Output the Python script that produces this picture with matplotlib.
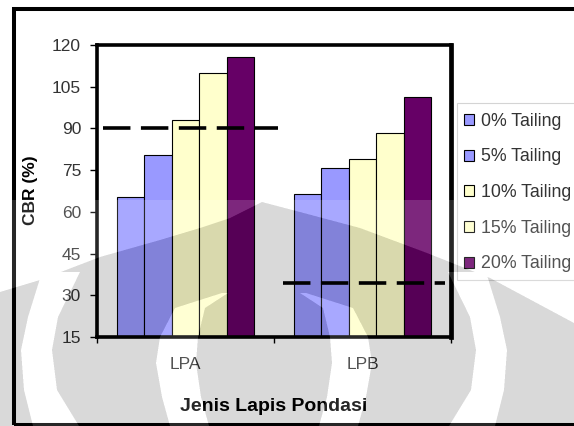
import numpy as np
import matplotlib
matplotlib.use("Agg")
import matplotlib.pyplot as plt
from matplotlib.patches import Rectangle

plt.rcParams["font.family"] = ["Liberation Sans", "DejaVu Sans"]

# CBR values per foundation layer type, one entry per tailing content
categories = ["LPA", "LPB"]
tailing_labels = ["0% Tailing", "5% Tailing", "10% Tailing", "15% Tailing", "20% Tailing"]
cbr_lpa = [65.2, 80.5, 93.0, 109.8, 115.6]
cbr_lpb = [66.4, 75.6, 78.9, 88.2, 101.4]
bar_colors = ["#9999FF", "#9999FF", "#FFFFCC", "#FFFFCC", "#660066"]

# minimum CBR requirement for each layer
spec_lpa = 90
spec_lpb = 34.5

W, H = 574, 426
fig = plt.figure(figsize=(W / 100, H / 100), dpi=100)
fig.patch.set_facecolor("white")


def fx(x):
    return x / W


def fy(y):
    return 1 - y / H


ax = fig.add_axes([fx(97), fy(337), 354 / W, 292 / H])

values = np.array([cbr_lpa, cbr_lpb])
xpos = np.arange(len(categories))
w = 0.155
for i, (lab, col) in enumerate(zip(tailing_labels, bar_colors)):
    ax.bar(xpos + (i - 2) * w, values[:, i], w, color=col,
           edgecolor="black", linewidth=0.8, label=lab)

dash = (0, (7.6, 2.9))
ax.plot([-0.466, 0.523], [spec_lpa, spec_lpa], color="black", lw=2.6,
        linestyle=dash, dash_capstyle="butt")
ax.plot([0.551, 1.466], [spec_lpb, spec_lpb], color="black", lw=2.6,
        linestyle=dash, dash_capstyle="butt")

ax.set_xlim(-0.5, 1.5)
ax.set_ylim(15, 120)
ax.set_yticks(np.arange(15, 121, 15))
ax.set_xticks([-0.5, 0.5, 1.5])
ax.set_xticklabels([])
ax.set_xticks(xpos, minor=True)
ax.set_xticklabels(categories, minor=True)
ax.tick_params(axis="x", which="minor", length=0, pad=14.5, labelsize=12.5,
               labelcolor="#333333")
ax.tick_params(axis="x", which="major", length=4, width=1, direction="out")
ax.tick_params(axis="y", length=5, width=1, direction="out", pad=6.5,
               labelsize=12.5, labelcolor="#333333")
for side, sp in ax.spines.items():
    sp.set_color("black")
    sp.set_linewidth(2.6)
ax.spines["right"].set_linewidth(3.4)

fig.text(fx(31), fy(190), "CBR (%)", rotation=90, ha="center", va="center",
         fontsize=12.5, fontweight="bold")
fig.text(fx(274), fy(411), "Jenis Lapis Pondasi", ha="center", va="baseline",
         fontsize=14, fontweight="bold")

# legend entries without their own frame; the box is drawn separately
leg = ax.legend(loc="upper left", bbox_to_anchor=(fx(457), fy(106)),
                bbox_transform=fig.transFigure, borderaxespad=0,
                fontsize=12.8, handlelength=0.6, handleheight=0.6,
                handletextpad=0.35, labelspacing=1.05, borderpad=0.38,
                frameon=False)
for t in leg.get_texts():
    t.set_color("#333333")

legend_box = Rectangle((fx(457), fy(280)), fx(W + 20) - fx(457),
                       fy(103) - fy(280), transform=fig.transFigure,
                       facecolor="white", edgecolor="#D4D4D4", linewidth=0.8,
                       clip_on=False, zorder=-1)
fig.patches.append(legend_box)

# outer chart frame, running off the right edge
frame = Rectangle((fx(13.5), fy(424.5)), fx(W + 20) - fx(13.5),
                  fy(8.8) - fy(424.5), transform=fig.transFigure,
                  fill=False, edgecolor="black", linewidth=2.9,
                  clip_on=False, zorder=5)
fig.patches.append(frame)


def watermark(ss=3):
    yy, xx = np.mgrid[0:H * ss, 0:W * ss]
    yy = (yy + 0.5) / ss
    xx = (xx + 0.5) / ss
    top_x = [0, 40, 100, 160, 200, 230, 262, 300, 360, 427, 490, 574]
    top_y = [292, 280, 257, 240, 228, 218, 202, 212, 228, 253, 278, 323]
    dome = yy > np.interp(xx, top_x, top_y)
    mx = np.minimum(xx, 528 - xx)

    band_y = [272, 317, 350, 390, 426]
    band_l = [42, 28, 21, 24, 33]
    band_r = [80, 58, 52, 57, 79]
    outer = ((yy > 272) & (mx > np.interp(yy, band_y, band_l))
             & (mx < np.interp(yy, band_y, band_r)))

    cres_y = [293, 308, 337, 363, 397, 426]
    cres_l = [222, 175, 160, 156, 162, 170]
    cres_r = [228, 205, 198, 196, 201, 209]
    inner = ((yy > 293) & (mx > np.interp(yy, cres_y, cres_l))
             & (mx < np.interp(yy, cres_y, cres_r)))

    gray = dome & ~(outer | inner)
    light = (yy >= 200) & ~gray
    alpha = np.where(gray, 0.15, np.where(light, 0.16, 0.0))
    prem = np.where(gray, 0.0, alpha)
    a = alpha.reshape(H, ss, W, ss).mean(axis=(1, 3))
    p = prem.reshape(H, ss, W, ss).mean(axis=(1, 3))
    c = np.where(a > 0, p / np.maximum(a, 1e-9), 0)
    return np.dstack([c, c, c, a])


fig.figimage(watermark(), xo=0, yo=0, origin="upper", zorder=10)

fig.savefig("out.png", dpi=100)
